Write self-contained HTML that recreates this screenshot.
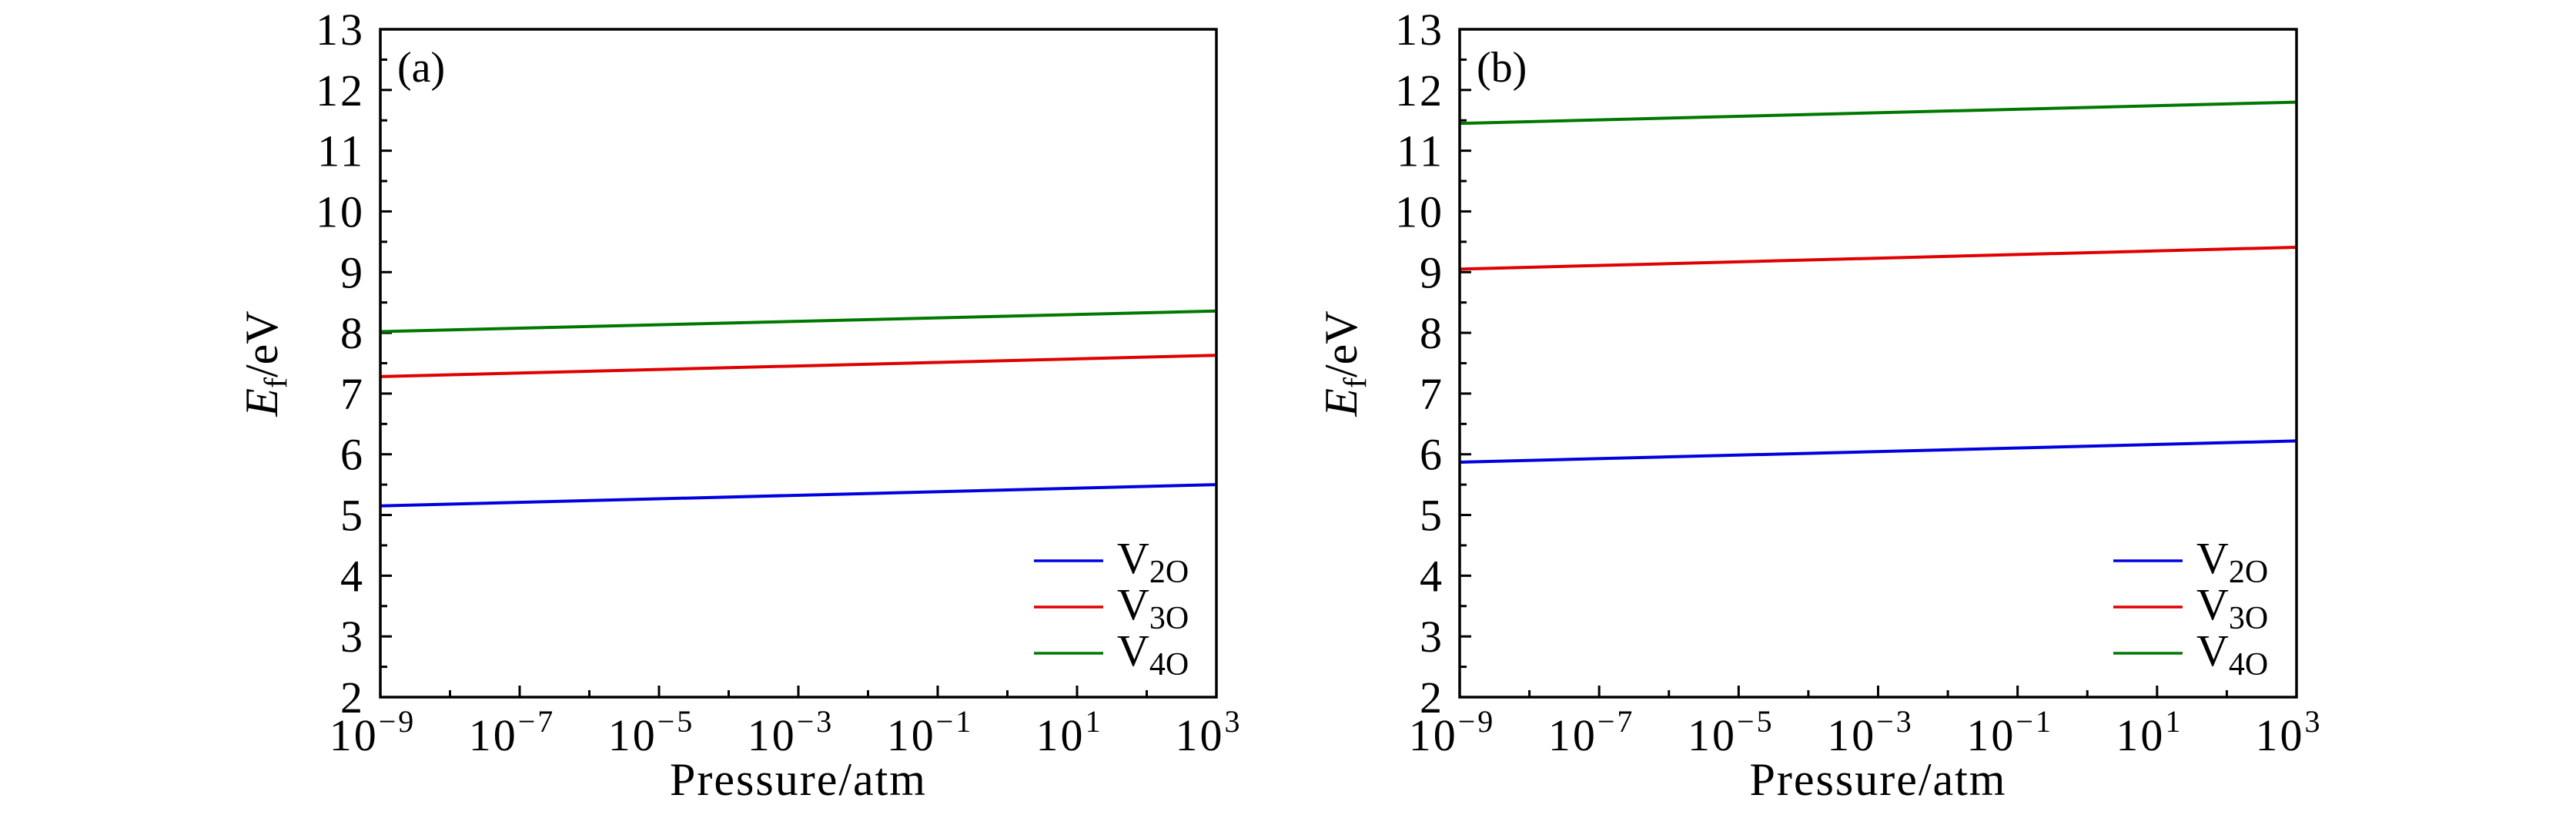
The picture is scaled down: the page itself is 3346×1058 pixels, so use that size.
<!DOCTYPE html>
<html><head><meta charset="utf-8"><style>
body{margin:0;background:#fff}
svg text{font-family:"Liberation Serif","DejaVu Serif",serif}
</style></head><body>
<svg id="c" width="3346" height="1053" font-family="Liberation Serif, serif"></svg>
<script>
const xExps=[-9,3];
const xTickExps=[-9,-7,-5,-3,-1,1,3];
const yTicks=[2,3,4,5,6,7,8,9,10,11,12,13];
const seriesNames=["2O","3O","4O"];
const seriesColors=["#0000e0","#e00000","#007800"];
const panelA_start=[5.15,7.28,8.02];
const panelA_end=[5.50,7.63,8.36];
const panelB_start=[5.87,9.05,11.45];
const panelB_end=[6.22,9.41,11.80];
const panels=[
 {id:"a",x0:494,x1:1580,start:panelA_start,end:panelA_end},
 {id:"b",x0:1896,x1:2983,start:panelB_start,end:panelB_end}
];
const NS="http://www.w3.org/2000/svg";
const svg=document.getElementById('c');
function mk(tag,attrs,parent,text){const e=document.createElementNS(NS,tag);for(const k in attrs)e.setAttribute(k,attrs[k]);if(text!==undefined)e.textContent=text;(parent||svg).appendChild(e);return e;}
const yTop=38,yBot=905;
panels.forEach(p=>{
 const g=mk('g',{});
 
 
 const X=e=>p.x0+(e-xExps[0])/(xExps[1]-xExps[0])*(p.x1-p.x0);
 const Y=v=>yBot-(v-2)/11*(yBot-yTop);
 for(let v=2;v<=13;v+=0.5){const L=(v%1===0)?15:9;mk('line',{x1:p.x0,x2:p.x0+L,y1:Y(v),y2:Y(v),stroke:'#000','stroke-width':3},g);}
 for(let e=-9;e<=3;e++){const L=(e%2!==0)?15:9;mk('line',{x1:X(e),x2:X(e),y1:yBot,y2:yBot-L,stroke:'#000','stroke-width':3},g);}
 yTicks.forEach(v=>{const t=mk('text',{x:p.x0-20,y:Y(v)+20,'text-anchor':'end','font-size':58,'letter-spacing':3},g,String(v));});
 xTickExps.forEach(e=>{const t=mk('text',{x:X(e)-10,y:974,'text-anchor':'middle','font-size':58,'letter-spacing':3},g);
  mk('tspan',{},t,'10');mk('tspan',{dy:-24,'font-size':40},t,e<0?'\u2212'+(-e):String(e));});
 seriesNames.forEach((n,i)=>{const l=mk('line',{x1:X(xExps[0]),x2:X(xExps[1]),y1:Y(p.start[i]),y2:Y(p.end[i]),stroke:seriesColors[i],'stroke-width':4},g);
  });
 mk('rect',{x:p.x0,y:yTop,width:p.x1-p.x0,height:yBot-yTop,fill:'none',stroke:'#000','stroke-width':3.5},g);
 const pl=mk('text',{x:p.x0+22,y:106,'font-size':56},g,'('+p.id+')');
 const lg=mk('g',{},g);
 seriesNames.forEach((n,i)=>{const ly=728+i*60;const lx=p.x0+849;
  mk('line',{x1:lx,x2:lx+90,y1:ly,y2:ly,stroke:seriesColors[i],'stroke-width':3.5},lg);
  const t=mk('text',{x:lx+108,y:ly+16,'font-size':58},lg);
  mk('tspan',{},t,'V');mk('tspan',{dy:12,'font-size':42},t,n);});
 const xt=mk('text',{x:(p.x0+p.x1)/2,y:1032,'text-anchor':'middle','font-size':60,'letter-spacing':2},g,'Pressure/atm');
 const cy=472,cx=p.x0-134;
 const yt=mk('text',{x:cx,y:cy,'text-anchor':'middle','font-size':60,transform:`rotate(-90 ${cx} ${cy})`},g);
 
 mk('tspan',{'font-style':'italic'},yt,'E');mk('tspan',{dy:12,'font-size':42},yt,'f');mk('tspan',{dy:-12},yt,'/eV');
});
</script>
</body></html>
